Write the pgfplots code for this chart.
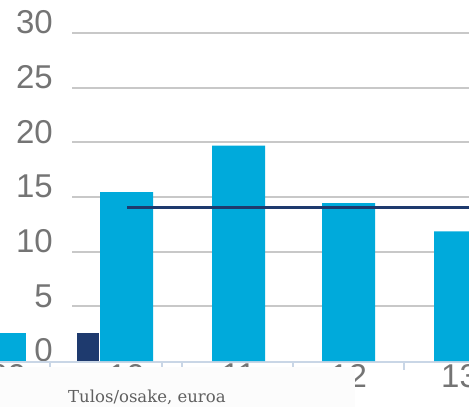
\documentclass[border=0pt]{standalone}
\usepackage{fontspec}
\setmainfont{Liberation Sans}
\newfontfamily\serifx{DejaVu Serif}
\usepackage{pgfplots}
\pgfplotsset{compat=1.18}
\definecolor{lb}{HTML}{00AADB}
\definecolor{navy}{HTML}{1E3A6E}
\definecolor{gridc}{HTML}{C8C8C8}
\definecolor{axc}{HTML}{C9D6E6}
\definecolor{tickgray}{HTML}{747474}
\definecolor{txtgray}{HTML}{606060}
\definecolor{boxc}{HTML}{FCFCFC}
\begin{document}
\begin{tikzpicture}
\begin{axis}[
  scale only axis, width=469bp, height=407bp,
  xmin=0, xmax=469, ymin=-4.207, ymax=33.02,
  axis line style={draw=none},
  major tick length=0pt,
  ytick={0,5,10,15,20,25,30},
  yticklabel style={anchor=south east, inner sep=0pt, xshift=53bp, yshift=-1.5bp},
  xtick={8,126.5,238.5,348.5,459.5},
  xticklabels={09,10,11,12,13},
  xticklabel style={anchor=north, inner sep=0pt, yshift=43bp},
  tick label style={font=\fontsize{33bp}{36bp}\selectfont, text=tickgray},
  /pgf/number format/assume math mode=true,
]
% gridlines
\addplot[gridc, line width=2bp] coordinates {(72,5)(469,5)};
\addplot[gridc, line width=2bp] coordinates {(72,10)(469,10)};
\addplot[gridc, line width=2bp] coordinates {(72,15)(469,15)};
\addplot[gridc, line width=2bp] coordinates {(72,20)(469,20)};
\addplot[gridc, line width=2bp] coordinates {(72,25)(469,25)};
\addplot[gridc, line width=2bp] coordinates {(72,30)(469,30)};
% x axis line and ticks
\addplot[axc, line width=1.5bp] coordinates {(0,-0.1)(469,-0.1)};
\addplot[axc, line width=1.5bp] coordinates {(50,-0.1)(50,-0.85)};
\addplot[axc, line width=1.5bp] coordinates {(162,-0.1)(162,-0.85)};
\addplot[axc, line width=1.5bp] coordinates {(182,-0.1)(182,-0.85)};
\addplot[axc, line width=1.5bp] coordinates {(293,-0.1)(293,-0.85)};
\addplot[axc, line width=1.5bp] coordinates {(404,-0.1)(404,-0.85)};
% bars
\addplot[ybar, bar shift=0pt, bar width=26bp, fill=lb, draw=none] coordinates {(13,2.56)};
\addplot[ybar, bar shift=0pt, bar width=22bp, fill=navy, draw=none] coordinates {(88,2.56)};
\addplot[ybar, bar shift=0pt, bar width=53bp, fill=lb, draw=none] coordinates {(126.5,15.45)(238.5,19.7)(348.5,14.45)(460.5,11.85)};
% line
\addplot[navy, line width=3bp] coordinates {(127,14.02)(469,14.02)};
\coordinate (b1) at (axis cs:0,-0.55);
\coordinate (b2) at (axis cs:355,-4.4);
\coordinate (t1) at (axis cs:68,-3.84);
\coordinate (sw) at (rel axis cs:0,0);
\coordinate (ne) at (rel axis cs:1,1);
\end{axis}
\fill[boxc] (b1) rectangle (b2);
\node[anchor=base west, inner sep=0pt, font=\serifx\fontsize{16.5bp}{18bp}\selectfont, text=txtgray] at (t1) {Tulos/osake, euroa};
\pgfresetboundingbox
\useasboundingbox (sw) rectangle (ne);
\end{tikzpicture}
\end{document}
